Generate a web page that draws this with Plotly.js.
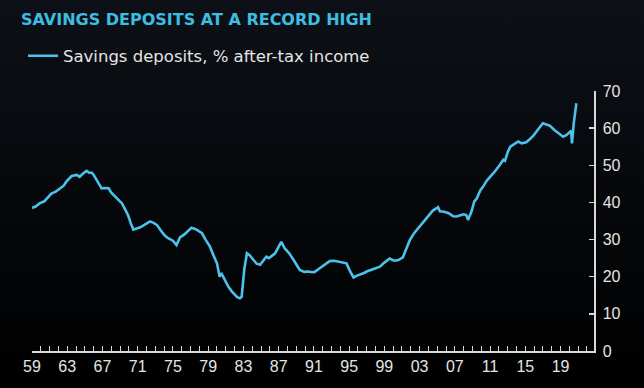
<!DOCTYPE html>
<html>
<head>
<meta charset="utf-8">
<script src="https://cdn.plot.ly/plotly-3.0.1.min.js"></script>
<style>
  html, body { margin: 0; padding: 0; }
  body { width: 644px; height: 388px; background: linear-gradient(#0d1117 0%, #05070a 55%, #000000 100%); overflow: hidden; }
  #chart { width: 644px; height: 388px; }
</style>
</head>
<body>
<div id="chart"></div>
<script>
// Savings deposits, % of after-tax income (decimal year, value)
const years = [
  1959.0, 1959.4, 1959.9, 1960.4, 1960.7, 1961.2, 1961.7, 1962.2, 1962.6, 1962.9,
  1963.5, 1964.1, 1964.4, 1964.8, 1965.2, 1965.5, 1965.8, 1966.0, 1966.5, 1966.9,
  1967.3, 1967.7, 1968.0, 1968.4, 1968.8, 1969.2, 1969.6, 1969.9, 1970.2, 1970.5,
  1970.9, 1971.3, 1971.8, 1972.4, 1972.8, 1973.2, 1973.6, 1974.1, 1974.5, 1975.0,
  1975.4, 1975.8, 1976.3, 1976.7, 1977.1, 1977.6, 1978.3, 1978.7, 1979.2, 1979.6,
  1980.0, 1980.3, 1980.5, 1980.7, 1981.0, 1981.3, 1981.7, 1982.0, 1982.3, 1982.6,
  1982.8, 1983.1, 1983.4, 1983.7, 1984.1, 1984.5, 1984.9, 1985.3, 1985.6, 1985.9,
  1986.2, 1986.6, 1987.0, 1987.3, 1987.7, 1988.2, 1988.7, 1989.0, 1989.4, 1989.9,
  1990.4, 1990.8, 1991.1, 1991.5, 1991.9, 1992.3, 1992.8, 1993.3, 1994.0, 1994.4,
  1994.7, 1995.1, 1995.5, 1995.9, 1996.2, 1996.7, 1997.0, 1997.4, 1998.0, 1998.5,
  1999.0, 1999.6, 2000.1, 2000.6, 2001.1, 2001.5, 2001.9, 2002.4, 2003.0, 2003.5,
  2004.0, 2004.5, 2004.9, 2005.1, 2005.3, 2005.8, 2006.3, 2006.8, 2007.2, 2007.6,
  2008.0, 2008.3, 2008.5, 2008.9, 2009.2, 2009.5, 2009.9, 2010.2, 2010.6, 2011.0,
  2011.5, 2012.1, 2012.5, 2012.7, 2013.0, 2013.3, 2013.8, 2014.2, 2014.6, 2015.1,
  2015.5, 2015.9, 2016.4, 2017.0, 2017.4, 2017.8, 2018.3, 2018.8, 2019.3, 2019.7,
  2020.1, 2020.2, 2020.3, 2020.5, 2020.8
];
const savingsPct = [
  38.5, 38.9, 39.8, 40.3, 41.1, 42.4, 42.9, 43.8, 44.5, 45.6,
  47.1, 47.4, 46.9, 47.8, 48.5, 48.0, 48.0, 47.4, 45.5, 43.8,
  43.9, 43.8, 42.6, 41.6, 40.8, 39.8, 38.0, 36.6, 34.5, 32.7,
  33.0, 33.3, 34.0, 34.9, 34.5, 33.9, 32.5, 31.0, 30.3, 29.7,
  28.5, 30.6, 31.4, 32.3, 33.2, 32.8, 31.7, 30.0, 28.1, 25.8,
  23.6, 20.0, 21.0, 20.0, 18.5, 17.3, 16.0, 15.1, 14.5, 14.2,
  14.6, 22.0, 26.3, 25.8, 24.5, 23.5, 23.2, 24.5, 25.4, 25.0,
  25.6, 26.3, 28.1, 29.4, 27.6, 26.3, 24.5, 23.2, 21.8, 21.3,
  21.4, 21.2, 21.3, 22.0, 22.7, 23.5, 24.2, 24.3, 24.0, 23.9,
  23.6, 21.5, 19.8, 20.3, 20.5, 21.0, 21.4, 21.8, 22.2, 22.7,
  23.8, 24.9, 24.3, 24.5, 25.2, 27.5, 29.9, 31.8, 33.5, 35.2,
  36.6, 37.8, 38.4, 38.7, 37.6, 37.5, 37.1, 36.3, 36.2, 36.4,
  36.8, 36.6, 35.3, 37.6, 40.2, 41.1, 43.3, 44.2, 45.8, 46.9,
  48.2, 50.1, 51.5, 51.2, 53.5, 55.0, 55.8, 56.4, 55.9, 56.2,
  57.0, 57.9, 59.5, 61.3, 61.0, 60.6, 59.5, 58.5, 57.7, 58.2,
  59.0, 59.3, 55.9, 61.3, 66.7
];
const xTickVals = [1959, 1963, 1967, 1971, 1975, 1979, 1983, 1987, 1991, 1995, 1999, 2003, 2007, 2011, 2015, 2019];
const xTickText = ['59', '63', '67', '71', '75', '79', '83', '87', '91', '95', '99', '03', '07', '11', '15', '19'];
const yTickVals = [0, 10, 20, 30, 40, 50, 60, 70];

const titleText = 'SAVINGS DEPOSITS AT A RECORD HIGH';
const seriesName = 'Savings deposits, % after-tax income';

const axisColor = '#d9d9d9';
const labelColor = '#e4e4e4';

const trace = {
  x: years,
  y: savingsPct,
  type: 'scatter',
  mode: 'lines',
  name: seriesName,
  line: { color: '#4cc2ea', width: 2.6 },
  hoverinfo: 'x+y'
};

const layout = {
  width: 644,
  height: 388,
  margin: { l: 32, r: 50, t: 91, b: 37 },
  paper_bgcolor: 'rgba(0,0,0,0)',
  plot_bgcolor: 'rgba(0,0,0,0)',
  font: { family: 'Liberation Sans, Arial, sans-serif', color: labelColor, size: 16 },
  title: {
    text: titleText,
    font: { family: 'DejaVu Sans, sans-serif', size: 16, color: '#3dbde0', weight: 'bold' },
    x: 21 / 644, xanchor: 'left', xref: 'container',
    y: 1 - 19 / 388, yanchor: 'middle', yref: 'container'
  },
  showlegend: true,
  legend: {
    x: -0.016, xanchor: 'left', xref: 'paper',
    y: 1 - 56 / 388, yanchor: 'middle', yref: 'container',
    bgcolor: 'rgba(0,0,0,0)',
    font: { family: 'DejaVu Sans, sans-serif', size: 16.5, color: labelColor },
    itemwidth: 30
  },
  xaxis: {
    range: [1959, 2022.8],
    showgrid: false,
    zeroline: false,
    showline: true,
    linecolor: axisColor,
    linewidth: 1.5,
    tickmode: 'array',
    tickvals: xTickVals,
    ticktext: xTickText,
    ticks: 'inside',
    ticklen: 5,
    tickwidth: 1,
    tickcolor: axisColor,
    tickfont: { size: 16, color: labelColor },
    minor: { tickmode: 'linear', tick0: 1959, dtick: 1, ticks: 'inside', ticklen: 5, tickwidth: 1, tickcolor: axisColor, showgrid: false },
    fixedrange: true
  },
  yaxis: {
    range: [0, 70],
    side: 'right',
    showgrid: false,
    zeroline: false,
    showline: true,
    linecolor: axisColor,
    linewidth: 1.5,
    tickmode: 'array',
    tickvals: yTickVals,
    ticks: 'inside',
    ticklen: 5,
    tickwidth: 1.5,
    tickcolor: axisColor,
    tickfont: { size: 16, color: labelColor },
    ticklabelstandoff: 4,
    fixedrange: true
  }
};

Plotly.newPlot('chart', [trace], layout, { displayModeBar: false, staticPlot: true });
</script>
</body>
</html>
